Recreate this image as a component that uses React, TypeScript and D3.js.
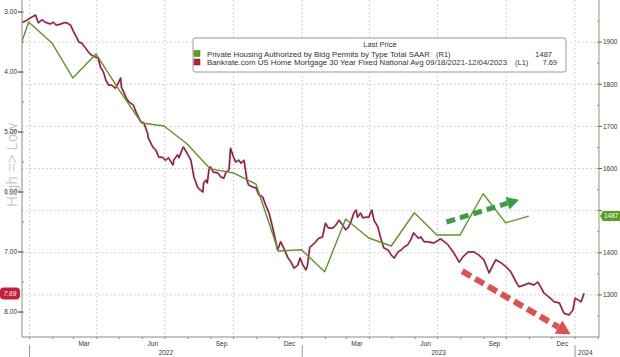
import React from "react";
import * as d3 from "d3";

// ---------- DATA ----------
const permitDates = [
  "2021-11-30","2021-12-31","2022-01-31","2022-02-28","2022-03-31","2022-04-30","2022-05-31","2022-06-30",
  "2022-07-31","2022-08-31","2022-09-30","2022-10-31","2022-11-30","2022-12-31","2023-01-31","2023-02-28",
  "2023-03-31","2023-04-30","2023-05-31","2023-06-30","2023-07-31","2023-08-31","2023-09-30","2023-10-31",
];
const permitValues = [
  1790,1948,1898,1815,1872,1789,1708,1701,
  1658,1599,1590,1563,1404,1407,1355,1480,
  1435,1416,1495,1442,1442,1540,1471,1487,
];

const rateDates = [
  "2021-12-20","2021-12-27","2022-01-02","2022-01-09","2022-01-13","2022-01-18","2022-01-22","2022-01-29","2022-02-02","2022-02-06",
  "2022-02-12","2022-02-16","2022-02-20","2022-02-25","2022-03-01","2022-03-05","2022-03-08","2022-03-12","2022-03-17","2022-03-21",
  "2022-03-25","2022-03-30","2022-04-03","2022-04-06","2022-04-10","2022-04-13","2022-04-17","2022-04-21","2022-04-26","2022-04-30",
  "2022-05-03","2022-05-04","2022-05-10","2022-05-14","2022-05-20","2022-05-24","2022-05-30","2022-06-03","2022-06-08","2022-06-09",
  "2022-06-15","2022-06-19","2022-06-23","2022-06-28","2022-07-02","2022-07-06","2022-07-12","2022-07-13","2022-07-18","2022-07-20",
  "2022-07-25","2022-07-26","2022-08-01","2022-08-05","2022-08-09","2022-08-14","2022-08-18","2022-08-21","2022-08-22","2022-08-25",
  "2022-08-27","2022-08-29","2022-08-31","2022-09-04","2022-09-10","2022-09-14","2022-09-18","2022-09-21","2022-09-25","2022-09-27",
  "2022-10-01","2022-10-04","2022-10-08","2022-10-11","2022-10-15","2022-10-19","2022-10-21","2022-10-27","2022-10-31","2022-11-04",
  "2022-11-09","2022-11-13","2022-11-17","2022-11-20","2022-11-24","2022-11-29","2022-12-03","2022-12-07","2022-12-13","2022-12-17",
  "2022-12-21","2022-12-26","2022-12-29","2023-01-02","2023-01-06","2023-01-08","2023-01-11","2023-01-15","2023-01-19","2023-01-23",
  "2023-01-28","2023-02-01","2023-02-05","2023-02-11","2023-02-15","2023-02-19","2023-02-24","2023-02-28","2023-03-03","2023-03-07",
  "2023-03-11","2023-03-14","2023-03-16","2023-03-20","2023-03-23","2023-03-27","2023-03-31","2023-04-04","2023-04-07","2023-04-12",
  "2023-04-16","2023-04-20","2023-04-26","2023-04-30","2023-05-04","2023-05-09","2023-05-13","2023-05-17","2023-05-22","2023-05-26",
  "2023-05-30","2023-06-05","2023-06-09","2023-06-13","2023-06-18","2023-06-26","2023-07-05","2023-07-15","2023-07-23","2023-07-30",
  "2023-08-04","2023-08-11","2023-08-19","2023-08-25","2023-09-01","2023-09-08","2023-09-13","2023-09-17","2023-09-24","2023-10-01",
  "2023-10-07","2023-10-14","2023-10-18","2023-10-25","2023-10-31","2023-11-07","2023-11-12","2023-11-16","2023-11-20","2023-11-27",
  "2023-12-04","2023-12-11","2023-12-17","2023-12-24","2023-12-29","2024-01-01","2024-01-05","2024-01-09","2024-01-13",
];
const rateValues = [
  3.18,3.15,3.10,3.05,3.18,3.13,3.17,3.20,3.17,3.22,
  3.20,3.18,3.18,3.22,3.33,3.42,3.50,3.52,3.60,3.67,
  3.72,3.75,3.77,3.92,4.00,4.13,4.22,4.22,4.27,4.18,
  4.10,4.25,4.42,4.50,4.55,4.68,4.83,4.85,5.02,5.10,
  5.25,5.30,5.42,5.42,5.47,5.43,5.55,5.47,5.38,5.43,
  5.27,5.25,5.38,5.47,5.75,5.92,5.97,6.00,5.85,5.80,
  5.85,5.63,5.58,5.67,5.68,5.75,5.77,5.67,5.63,5.27,
  5.42,5.50,5.47,5.52,5.47,5.80,5.88,5.92,5.93,6.05,
  6.08,6.22,6.33,6.47,6.68,6.97,6.83,6.93,7.10,7.17,
  7.27,7.22,7.10,7.22,7.30,7.22,6.92,6.88,6.83,6.77,
  6.75,6.52,6.60,6.60,6.55,6.47,6.55,6.63,6.60,6.50,
  6.35,6.30,6.42,6.35,6.43,6.42,6.42,6.30,6.47,6.58,
  6.77,6.93,6.97,7.05,7.10,7.00,6.97,6.92,6.88,6.80,
  6.68,6.77,6.75,6.83,6.83,6.85,6.78,6.88,7.02,7.17,
  7.08,7.00,7.00,7.05,7.13,7.35,7.22,7.13,7.18,7.25,
  7.33,7.50,7.58,7.55,7.52,7.55,7.50,7.58,7.68,7.75,
  7.83,7.85,8.02,8.05,7.97,7.77,7.80,7.83,7.69,
];

const leftTickValues = [3, 4, 5, 6, 7, 8];
const rightTickValues = [1300, 1400, 1500, 1600, 1700, 1800, 1900];
const rightTickLabels = ["1300", "1400", "", "1600", "1700", "1800", "1900"];
const monthLabelDates = ["2022-03-15","2022-06-15","2022-09-15","2022-12-15","2023-03-15","2023-06-15","2023-09-15","2023-12-15"];
const monthLabelTexts = ["Mar","Jun","Sep","Dec","Mar","Jun","Sep","Dec"];
const yearStartDates = ["2022-01-01","2023-01-01","2024-01-01"];
const yearLabelTexts = ["2022","2023","2024"];
const legendTitle = "Last Price";
const legendNames = [
  "Private Housing Authorized by Bldg Permits by Type Total SAAR",
  "Bankrate.com US Home Mortgage 30 Year Fixed National Avg 09/18/2021-12/04/2023",
];
const legendAxes = ["(R1)", "(L1)"];
const legendLast = ["1487", "7.69"];
const lastPermit = 1487;
const lastRate = 7.69;
const axisTitle = "High => Low";
// annotation arrows in data space
const greenArrow = { from: ["2023-07-13", 1473], to: ["2023-10-18", 1526] };
const redArrow = { from: ["2023-08-03", 7.32], to: ["2023-12-26", 8.37] };

// ---------- LAYOUT ----------
const W = 620, H = 357;
const L = 22, R = 599, T = 0, B = 337;
const GREEN = "#62932a";
const RED_DARK = "#6f1233";
const RED = "#c8294f";

const parse = d3.utcParse("%Y-%m-%d");

function Arrow({ x0, y0, x1, y1, color, width, head, dash }: any) {
  const ang = Math.atan2(y1 - y0, x1 - x0);
  const bx = x1 - head * Math.cos(ang);
  const by = y1 - head * Math.sin(ang);
  const px = -Math.sin(ang), py = Math.cos(ang);
  const hw = head * 0.55;
  const pts = [
    [x1, y1],
    [bx + px * hw, by + py * hw],
    [bx - px * hw, by - py * hw],
  ];
  return (
    <g>
      <line x1={x0} y1={y0} x2={bx} y2={by} stroke={color} strokeWidth={width} strokeDasharray={dash} />
      <polygon points={pts.map((p) => p.join(",")).join(" ")} fill={color} />
    </g>
  );
}

export default function App() {
  const x = d3.scaleUtc().domain([parse("2021-12-22")!, parse("2024-02-02")!]).range([L, R]);
  const yL = d3.scaleLinear().domain([2.8, 2.8 + (B - T) / 60]).range([T, B]);
  const yR = d3.scaleLinear().domain([1200, 2000]).range([B, T]);

  const permits = permitDates.map((d, i) => ({ d: parse(d)!, v: permitValues[i] }));
  const n = Math.min(rateDates.length, rateValues.length);
  const rates = rateDates.slice(0, n).map((d, i) => ({ d: parse(d)!, v: rateValues[i] }));

  const greenLine = d3.line<any>().x((p) => x(p.d)).y((p) => yR(p.v));
  const redLine = d3.line<any>().x((p) => x(p.d)).y((p) => yL(p.v));

  const quarterStarts = d3.utcMonth.every(3)!.range(parse("2022-01-01")!, parse("2024-02-01")!).filter((d) => x(d) > L + 2);
  const monthStarts = d3.utcMonth.range(parse("2022-01-01")!, parse("2024-02-02")!);
  const leftMinor = d3.range(3, 8.41, 0.5);
  const rightMinor = d3.range(1250, 2000, 50);

  const font = "'Liberation Sans', Arial, sans-serif";

  return (
    <svg width={W} height={H} style={{ position: "absolute", left: 0, top: 0, background: "#fff" }} fontFamily={font}>
      <defs>
        <clipPath id="plot">
          <rect x={L} y={T} width={R - L} height={B - T} />
        </clipPath>
      </defs>
      <rect x={0} y={0} width={W} height={H} fill="#fff" />

      {/* grid */}
      {rightTickValues.map((v) => (
        <line key={"h" + v} x1={L} x2={R} y1={yR(v)} y2={yR(v)} stroke="#c8c8c8" strokeWidth={1} strokeDasharray="1.5,2.5" />
      ))}
      {quarterStarts.map((d, i) => (
        <line key={"v" + i} x1={x(d)} x2={x(d)} y1={T} y2={B} stroke="#c8c8c8" strokeWidth={1} strokeDasharray="1.5,2.5" />
      ))}

      {/* axis title */}
      <text transform={`translate(13,165) rotate(-90)`} textAnchor="middle" dominantBaseline="middle" fontSize={15} fill="#c9c9c9">
        {axisTitle}
      </text>

      {/* series */}
      <g clipPath="url(#plot)">
        <path d={redLine(rates)!} fill="none" stroke={RED} strokeWidth={2} strokeOpacity={0.7} strokeLinejoin="round" />
        <path d={redLine(rates)!} fill="none" stroke={RED_DARK} strokeWidth={1} strokeLinejoin="round" />
        <path d={greenLine(permits)!} fill="none" stroke={GREEN} strokeWidth={1.4} strokeLinejoin="round" />
      </g>

      {/* arrows */}
      <Arrow
        x0={x(parse(greenArrow.from[0] as string)!)} y0={yR(greenArrow.from[1] as number)}
        x1={x(parse(greenArrow.to[0] as string)!)} y1={yR(greenArrow.to[1] as number)}
        color="#36a043" width={5} head={12} dash="9,5"
      />
      <Arrow
        x0={x(parse(redArrow.from[0] as string)!)} y0={yL(redArrow.from[1] as number)}
        x1={x(parse(redArrow.to[0] as string)!)} y1={yL(redArrow.to[1] as number)}
        color="#e2504e" width={6} head={14} dash="10,5"
      />

      {/* legend */}
      <g>
        <rect x={193} y={38} width={373} height={34} rx={2} fill="#fff" stroke="#9a9a9a" strokeWidth={1} />
        <text x={380} y={47} textAnchor="middle" fontSize={7.5} fill="#333">{legendTitle}</text>
        {legendNames.map((nm, i) => {
          const yy = 56.5 + i * 8.5;
          return (
            <g key={nm}>
              <rect x={194} y={yy - 6} width={6} height={6} fill={i === 0 ? "#5a9e22" : "#b8203e"} stroke={i === 0 ? "#3d7a12" : "#80102a"} strokeWidth={0.5} />
              <text x={207} y={yy} fontSize={7.5} fill="#333" textLength={i === 0 ? 223 : 300} lengthAdjust="spacingAndGlyphs">{nm}</text>
              <text x={i === 0 ? 436 : 515} y={yy} fontSize={7.5} fill="#333">{legendAxes[i]}</text>
              <text x={i === 0 ? 552 : 557} y={yy} fontSize={7.5} fill="#333" textAnchor="end">{legendLast[i]}</text>
            </g>
          );
        })}
      </g>

      {/* axes lines */}
      <line x1={L} x2={L} y1={T} y2={B} stroke="#8a8a8a" strokeWidth={1} />
      <line x1={R} x2={R} y1={T} y2={B} stroke="#8c9a6a" strokeWidth={1} />
      <line x1={L} x2={R} y1={B} y2={B} stroke="#8a8a8a" strokeWidth={1} />

      {/* left ticks */}
      {leftMinor.map((v) => (
        <line key={"lm" + v} x1={L} x2={L + 2} y1={yL(v)} y2={yL(v)} stroke="#8a8a8a" />
      ))}
      {leftTickValues.map((v) => (
        <g key={"l" + v}>
          <line x1={L - 4} x2={L} y1={yL(v)} y2={yL(v)} stroke="#444" strokeWidth={1.2} />
          <text x={L - 5} y={yL(v)} dy="0.35em" textAnchor="end" fontSize={6.5} fill="#333">{v.toFixed(2)}</text>
        </g>
      ))}

      {/* right ticks */}
      {rightMinor.map((v) => (
        <line key={"rm" + v} x1={R - 2} x2={R} y1={yR(v)} y2={yR(v)} stroke="#8c9a6a" />
      ))}
      {rightTickValues.map((v, i) => (
        <g key={"r" + v}>
          <line x1={R} x2={R + 3} y1={yR(v)} y2={yR(v)} stroke="#556b2f" strokeWidth={1} />
          <text x={R + 4} y={yR(v)} dy="0.35em" fontSize={6.5} fill="#333">{rightTickLabels[i]}</text>
        </g>
      ))}

      {/* bottom ticks */}
      {monthStarts.map((d, i) => (
        <line key={"bm" + i} x1={x(d)} x2={x(d)} y1={B} y2={B + 2} stroke="#8a8a8a" />
      ))}
      {monthLabelDates.map((d, i) => (
        <text key={"ml" + i} x={x(parse(d)!)} y={346} textAnchor="middle" fontSize={6.5} fill="#333">{monthLabelTexts[i]}</text>
      ))}
      {yearStartDates.map((d, i) => {
        const xs = x(parse(d)!);
        const xe = i < yearStartDates.length - 1 ? x(parse(yearStartDates[i + 1])!) : R;
        const last = i === yearStartDates.length - 1;
        return (
          <g key={"y" + i}>
            <line x1={xs} x2={xs} y1={345} y2={357} stroke="#9a9a9a" strokeWidth={1} />
            <text x={last ? xs + 3 : (xs + xe) / 2} y={355} textAnchor={last ? "start" : "middle"} fontSize={6.5} fill="#333">{yearLabelTexts[i]}</text>
          </g>
        );
      })}

      {/* last value badges */}
      <g>
        <rect x={0} y={yL(lastRate) - 6} width={20} height={12} rx={4} fill="#c41e3a" />
        <text x={10} y={yL(lastRate)} dy="0.35em" textAnchor="middle" fontSize={6.5} fontStyle="italic" fill="#fff">{lastRate.toFixed(2)}</text>
      </g>
      <g>
        <path
          d={`M${R + 1},${yR(lastPermit)} L${R + 4},${yR(lastPermit) - 5} L${W},${yR(lastPermit) - 5} L${W},${yR(lastPermit) + 5} L${R + 4},${yR(lastPermit) + 5} Z`}
          fill="#5a9e22"
        />
        <text x={R + 5} y={yR(lastPermit)} dy="0.35em" fontSize={6.5} fill="#fff">{String(lastPermit)}</text>
      </g>
    </svg>
  );
}
